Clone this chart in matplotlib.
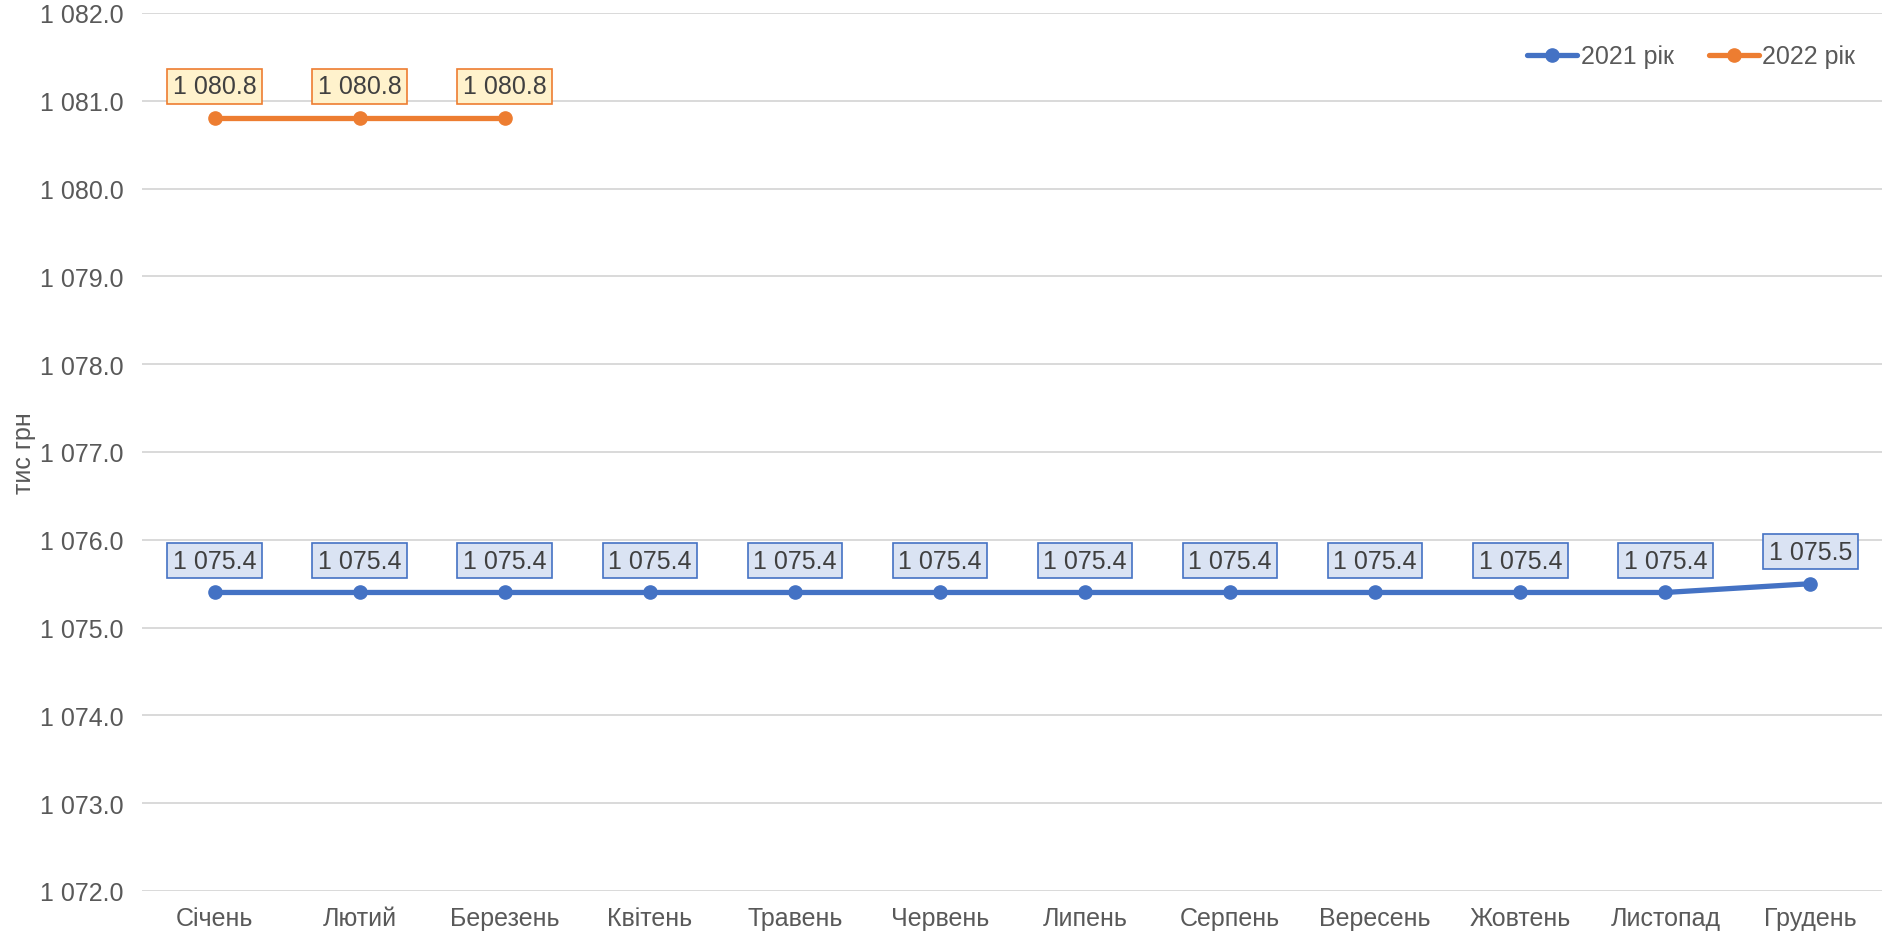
import numpy as np
import matplotlib.pyplot as plt
from matplotlib.ticker import FuncFormatter, MultipleLocator

months = ["Січень", "Лютий", "Березень", "Квітень", "Травень", "Червень",
          "Липень", "Серпень", "Вересень", "Жовтень", "Листопад", "Грудень"]
vals_2021 = [1075.4, 1075.4, 1075.4, 1075.4, 1075.4, 1075.4,
             1075.4, 1075.4, 1075.4, 1075.4, 1075.4, 1075.5]
vals_2022 = [1080.8, 1080.8, 1080.8]
series_names = ["2021 рік", "2022 рік"]

plt.rcParams["font.family"] = ["Liberation Sans", "DejaVu Sans"]

blue = "#4472C4"
orange = "#ED7D31"
txt = "#595959"
fs = 18


def fmt(v, pos=None):
    s = "{:,.1f}".format(v)
    return s.replace(",", " ")


fig = plt.figure(figsize=(18.83, 9.37), dpi=100)
ax = fig.add_axes([142 / 1883, 45 / 937, 1 - 142 / 1883, (892 - 14) / 937])

x = np.arange(len(months))
ax.plot(x, vals_2021, color=blue, lw=3.8, marker="o", ms=9.5,
        solid_capstyle="round", label=series_names[0], zorder=3)
ax.plot(x[:len(vals_2022)], vals_2022, color=orange, lw=3.8, marker="o", ms=9.5,
        solid_capstyle="round", label=series_names[1], zorder=3)

for xi, v in zip(x, vals_2021):
    ax.annotate(fmt(v), (xi, v), xytext=(0, 23), textcoords="offset points",
                ha="center", va="center", fontsize=fs, color="#404040",
                bbox=dict(boxstyle="square,pad=0.22", fc="#DAE3F3", ec=blue, lw=1.2),
                zorder=4)
for xi, v in zip(x, vals_2022):
    ax.annotate(fmt(v), (xi, v), xytext=(0, 23), textcoords="offset points",
                ha="center", va="center", fontsize=fs, color="#404040",
                bbox=dict(boxstyle="square,pad=0.22", fc="#FFF2CC", ec=orange, lw=1.2),
                zorder=4)

ax.set_xlim(-0.5, len(months) - 0.5)
ax.set_ylim(1072, 1082)
ax.yaxis.set_major_locator(MultipleLocator(1))
ax.yaxis.set_major_formatter(FuncFormatter(fmt))
ax.set_xticks(x)
ax.set_xticklabels(months)
ax.tick_params(axis="both", length=0, labelsize=fs, labelcolor=txt)
ax.tick_params(axis="x", pad=11)
ax.tick_params(axis="y", pad=13)
ax.grid(axis="y", color="#D9D9D9", lw=1.4)
ax.set_axisbelow(True)
for sp in ax.spines.values():
    sp.set_visible(False)

ax.set_ylabel("тис грн", fontsize=fs, color=txt, labelpad=3)

ax.legend(loc="upper right", bbox_to_anchor=(0.997, 0.99), ncol=2, frameon=False,
          fontsize=fs, labelcolor=txt, handlelength=2.0, handletextpad=0.15,
          columnspacing=1.4)

fig.savefig("out.png", dpi=100)
